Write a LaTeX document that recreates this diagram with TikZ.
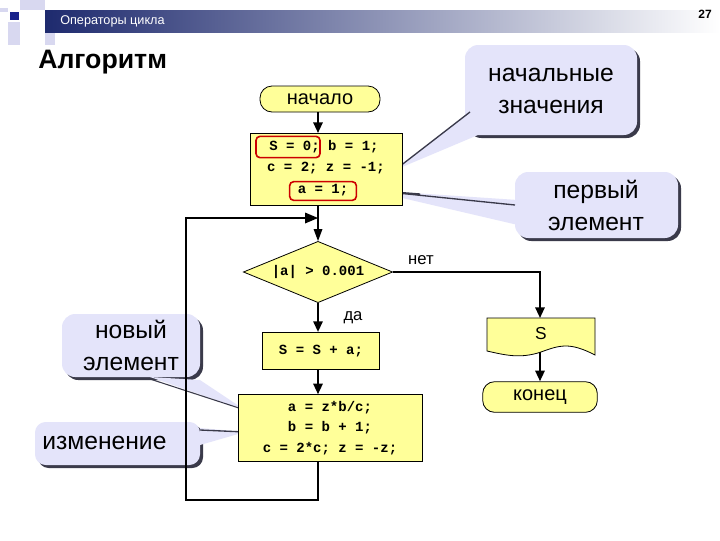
\documentclass[tikz,border=0pt]{standalone}
\usepackage{fontspec}
\setmainfont{Liberation Sans}
\newfontfamily\codef{Liberation Mono}
\usetikzlibrary{shapes.geometric,arrows.meta}
\definecolor{blk}{HTML}{FFFF99}
\definecolor{lav}{HTML}{E4E4FA}
\definecolor{shad}{HTML}{3A3A4A}
\definecolor{navy}{HTML}{1E2A6E}
\definecolor{deco}{HTML}{D8D8F0}
\begin{document}
\begin{tikzpicture}[x=0.75pt,y=-0.75pt,
  blockb/.style={draw=black,fill=blk,line width=0.6pt,font=\codef\bfseries\fontsize{10.5}{15.5}\selectfont,align=center,inner sep=0pt},
  term/.style={blockb,rounded corners=9pt,font=\fontsize{15}{17}\selectfont},
  flow/.style={line width=1.5pt,-{Triangle[length=8pt,width=7pt]}},
  line/.style={line width=1.5pt},
  callt/.style={font=\fontsize{18.5}{21}\selectfont,align=center,inner sep=0pt},
  redb/.style={draw=red!80!black,line width=1.2pt,rounded corners=3pt,inner sep=0pt}]
\useasboundingbox (0,0) rectangle (720,540);
\fill[white] (0,0) rectangle (720,540);
% header
\fill[deco] (20,0) rectangle (45,10);
\fill[deco] (8,22) rectangle (20,45);
\fill[deco] (45,32) rectangle (55,45);
\fill[deco] (0,8) rectangle (8,12);
\shade[left color=navy,right color=white] (45,10) rectangle (720,32);
\fill[navy!80!blue] (10,12) rectangle (19,20);
\node[anchor=west,text=white,font=\fontsize{9.5}{11}\selectfont,inner sep=0] (hdr) at (60,21) {Операторы цикла};
\node[anchor=east,font=\bfseries\fontsize{9}{11}\selectfont,inner sep=0] (num) at (712,14) {27};
\node[anchor=west,font=\bfseries\fontsize{20}{24}\selectfont,inner sep=0] (title) at (38,62) {Алгоритм};
% callouts
\fill[shad,rounded corners=10pt] (468,48) rectangle (640,138);
\fill[lav,rounded corners=10pt] (465,45) rectangle (637,135);
\fill[shad,rounded corners=10pt] (518,175) rectangle (681,241);
\fill[lav,rounded corners=10pt] (515,172) rectangle (678,238);
\fill[shad,rounded corners=10pt] (65,317) rectangle (203,380);
\fill[lav,rounded corners=10pt] (62,314) rectangle (200,377);
\fill[shad,rounded corners=8pt] (38,425) rectangle (203,468);
\fill[lav,rounded corners=8pt] (35,422) rectangle (200,465);
% pointers
\fill[lav] (465,115) -- (395,170) -- (478,135) -- cycle;
\draw[shad,line width=1pt] (470,112) -- (395,170);
\fill[lav] (518,200) -- (368,190) -- (518,225) -- cycle;
\draw[shad,line width=1pt] (515,205) -- (368,190) -- (420,194);
\fill[lav] (200,380) -- (245,410) -- (150,377) -- cycle;
\draw[shad,line width=0.8pt] (150,379) -- (245,410);
\fill[lav] (200,428) -- (245,432) -- (200,445) -- cycle;
\draw[shad,line width=1pt] (200,430) -- (245,432);
\node[callt] (c1) at (551,91) {начальные\\[3pt]значения};
\node[callt] (c2) at (596,205) {первый\\[3pt]элемент};
\node[callt] (c3) at (131,345) {новый\\[3pt]элемент};
\node[callt,anchor=west] (c4) at (42,443) {изменение};
% blocks
\node[term,minimum width=90pt,minimum height=19.5pt] (start) at (320,99) {начало};
\node[blockb,minimum width=114pt,minimum height=54pt] (init) at (326,169) {};
\node[blockb,draw=none,fill=none] (l1) at (324,147) {S = 0;\ b = 1;};
\node[blockb,draw=none,fill=none] (l2) at (326,168) {c = 2;\ z = -1;};
\node[blockb,draw=none,fill=none] (l3) at (323,190) {a = 1;};
\node[redb,minimum width=48pt,minimum height=16pt] (r1) at (288,147) {};
\node[redb,minimum width=50pt,minimum height=14pt] (r2) at (323,191) {};
\node[blockb,shape=diamond,minimum width=112pt,minimum height=46pt,aspect=2.4] (cond) at (318,272) {|a| > 0.001};
\node[blockb,minimum width=88pt,minimum height=28pt] (sum) at (321,351) {S = S + a;};
\node[blockb,minimum width=138pt,minimum height=50pt] (upd) at (330,428) {a\ =\ z*b/c;\\b = b + 1;\\c = 2*c;\ z = -z;};
\node[blockb,draw=none,fill=none,font=\fontsize{13}{15}\selectfont,minimum width=81pt,minimum height=26pt] (out) at (541,334) {};
\filldraw[fill=blk,line width=0.6pt] (487,318) -- (595,318) -- (595,355) .. controls (570,342) and (560,345) .. (541,352) .. controls (520,359) and (505,355) .. (487,351) -- cycle;
\node[font=\fontsize{13}{15}\selectfont,inner sep=0] (outt) at (out) {S};
\node[term,minimum width=86pt,minimum height=23pt] (end) at (540,397) {конец};
\node[font=\fontsize{12.5}{14}\selectfont,inner sep=0] (no) at (421,260) {нет};
\node[font=\fontsize{12.5}{14}\selectfont,inner sep=0] (yes) at (353,318) {да};
\coordinate (jn) at (318,218);
\coordinate (itop) at (318,133);
\coordinate (dtop) at (318,241);
% connectors
\draw[flow] (318,112) -- (itop);
\draw[line] (318,205) -- (318,232);
\fill (dtop) -- (313.5,229) -- (322.5,229) -- cycle;
\draw[line] (upd.south -| cond.south) -- (318,500) -- (186,500) -- (186,218) -- (306,218);
\fill (jn) -- (305,212.5) -- (305,223.5) -- cycle;
\draw[flow] (cond.south) -- (sum.north -| cond.south);
\draw[flow] (sum.south -| cond.south) -- (upd.north -| cond.south);
\draw[flow] (cond.east) -- (540,272) -- (540,318);
\draw[flow] (540,352) -- (end.north);
\end{tikzpicture}
\end{document}
